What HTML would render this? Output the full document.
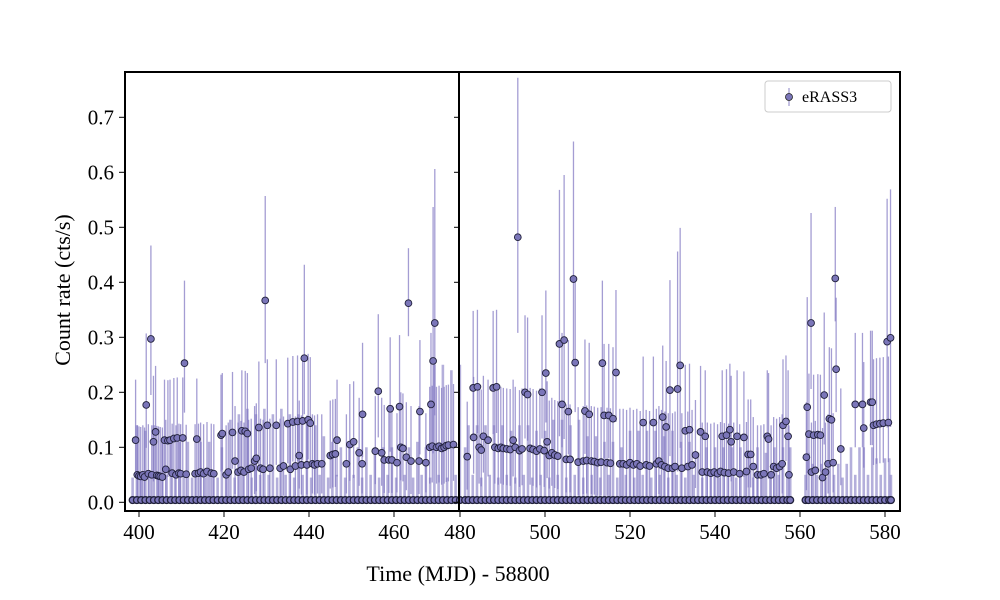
<!DOCTYPE html>
<html><head><meta charset="utf-8"><title>eRASS3 light curve</title>
<style>
html,body{margin:0;padding:0;background:#fff;}
svg{display:block;font-family:"Liberation Serif",serif;}
</style></head>
<body>
<svg id="chart" width="1000" height="600" viewBox="0 0 1000 600" xmlns="http://www.w3.org/2000/svg">
<rect x="0" y="0" width="1000" height="600" fill="#fff"/>
<g id="bars"></g>
<g id="marks"></g>
<g id="axes"></g>
<rect x="125" y="72" width="334" height="439" fill="none" stroke="#000" stroke-width="2"/>
<rect x="459" y="72" width="441" height="439" fill="none" stroke="#000" stroke-width="2"/>
<text x="70" y="290" font-size="22" text-anchor="middle" transform="rotate(-90 70 290)">Count rate (cts/s)</text>
<text x="458" y="581" font-size="22" text-anchor="middle">Time (MJD) - 58800</text>
<g>
<rect x="765" y="81" width="126" height="31" rx="3" fill="#fff" stroke="#ccc" stroke-width="1"/>
<line x1="789" y1="88" x2="789" y2="106" stroke="#8a82c4" stroke-width="1"/>
<circle cx="789" cy="97" r="3.5" fill="#7b76b9" stroke="#222" stroke-width="0.8"/>
<text x="802" y="102" font-size="16">eRASS3</text>
</g>
</svg>
<script>
const detT=[399.2,399.6,400.0,400.4,400.9,401.3,401.7,402.2,402.8,403.0,403.4,403.9,404.2,404.6,405.0,405.5,406.0,406.3,406.8,407.3,407.8,408.2,408.7,409.0,409.4,409.8,410.3,410.7,411.1,413.2,413.6,414.0,414.5,415.2,416.0,417.0,417.6,419.3,419.6,420.5,421.0,422.0,422.6,423.3,424.0,424.2,424.7,425.0,425.5,425.8,426.4,427.2,427.6,428.2,428.6,429.2,429.7,430.2,430.8,432.3,433.2,434.0,435.0,435.6,436.2,436.8,437.3,437.7,438.2,438.5,438.9,439.5,439.8,440.3,440.8,441.3,442.0,443.0,445.0,445.6,446.2,446.6,448.8,449.6,450.5,451.8,452.5,452.6,455.6,456.3,457.1,457.7,458.8,459.1,459.5,460.7,461.3,461.6,462.1,462.9,463.4,464.0,465.9,466.1,467.5,468.7,469.2,469.6,468.4,469.0,470.0,470.6,471.2,471.8,472.3,472.8,474.0,
481.7,483.1,483.2,484.1,484.5,485.0,485.5,486.6,487.8,488.6,488.2,489.0,489.6,490.2,491.0,491.8,492.5,493.0,493.6,494.0,494.6,495.3,495.9,496.5,497.2,498.0,498.8,499.3,499.8,500.2,500.5,501.0,501.6,502.3,503.0,503.4,504.0,504.5,505.0,505.5,505.9,506.7,507.1,507.8,509.0,509.4,509.8,510.4,510.9,511.6,512.4,513.2,513.5,513.9,514.6,515.0,515.4,516.0,516.7,517.6,518.4,519.2,520.0,520.8,521.6,522.4,523.1,523.8,524.6,525.5,526.2,526.8,527.4,527.7,528.2,528.5,529.0,529.4,530.0,530.6,531.2,531.8,532.2,533.0,533.6,534.0,534.6,535.4,536.6,537.0,537.7,538.2,539.0,539.8,540.6,541.3,541.7,542.2,542.7,543.2,543.5,543.8,544.4,545.2,545.8,546.8,547.4,547.8,548.4,549.0,550.0,550.8,551.5,552.3,552.6,553.2,553.8,554.5,555.2,555.8,556.0,556.7,557.2,557.4,561.5,561.7,562.1,562.6,562.7,563.2,563.6,564.2,564.8,565.3,565.7,566.0,566.6,566.9,567.4,567.8,568.3,568.5,569.6,573.0,574.7,575.0,576.6,577.0,577.3,578.0,578.8,579.6,580.5,580.8,581.3];
const detR=[.113,.050,.048,.047,.050,.046,.177,.052,.297,.050,.110,.128,.049,.048,.047,.046,.113,.060,.112,.113,.053,.116,.050,.117,.053,.052,.117,.253,.051,.052,.115,.053,.055,.052,.056,.053,.052,.122,.125,.050,.055,.127,.075,.055,.058,.130,.055,.129,.125,.060,.062,.075,.080,.136,.062,.060,.367,.140,.062,.140,.062,.066,.143,.060,.146,.066,.147,.085,.068,.148,.262,.068,.150,.144,.070,.068,.070,.070,.085,.087,.088,.113,.070,.105,.110,.090,.070,.160,.093,.202,.090,.077,.077,.170,.077,.072,.174,.100,.098,.082,.362,.075,.075,.165,.072,.178,.257,.326,.100,.102,.100,.102,.098,.100,.103,.104,.105,
.083,.208,.118,.210,.100,.095,.120,.113,.208,.210,.100,.098,.100,.098,.097,.096,.113,.100,.482,.094,.097,.200,.196,.098,.096,.093,.097,.200,.094,.235,.110,.085,.090,.086,.084,.288,.178,.295,.078,.165,.078,.406,.254,.073,.075,.166,.076,.160,.075,.074,.072,.073,.253,.158,.072,.158,.071,.152,.236,.070,.070,.068,.072,.068,.070,.066,.145,.068,.066,.145,.070,.075,.068,.155,.065,.137,.062,.204,.062,.065,.206,.249,.062,.130,.065,.132,.068,.086,.128,.055,.120,.055,.053,.055,.052,.056,.120,.054,.122,.053,.132,.110,.055,.120,.052,.118,.056,.087,.087,.065,.050,.050,.052,.120,.115,.050,.065,.062,.065,.070,.140,.147,.120,.050,.082,.173,.124,.326,.055,.122,.058,.123,.122,.045,.195,.055,.070,.152,.150,.072,.407,.242,.097,.178,.178,.135,.182,.182,.140,.142,.143,.144,.292,.145,.299];
const detE=[.11,.09,.09,.09,.09,.09,.13,.09,.17,.09,.12,.12,.09,.09,.09,.09,.11,.09,.11,.11,.09,.11,.09,.11,.09,.09,.11,.15,.09,.09,.11,.09,.09,.09,.09,.09,.09,.11,.11,.09,.09,.11,.10,.09,.09,.11,.09,.11,.11,.09,.09,.10,.10,.12,.09,.09,.19,.12,.09,.12,.09,.09,.12,.09,.12,.09,.12,.10,.09,.12,.17,.09,.12,.12,.09,.09,.09,.09,.10,.10,.10,.11,.09,.11,.11,.10,.09,.13,.10,.14,.10,.10,.10,.13,.10,.09,.13,.10,.10,.10,.10,.10,.10,.13,.09,.13,.28,.28,.11,.11,.11,.11,.11,.11,.11,.11,.11,
.10,.14,.11,.14,.11,.11,.11,.11,.14,.14,.11,.11,.11,.11,.11,.11,.11,.11,.29,.11,.11,.14,.14,.11,.11,.11,.11,.14,.11,.15,.11,.10,.10,.10,.10,.28,.13,.30,.10,.13,.10,.25,.15,.10,.10,.13,.10,.13,.10,.10,.10,.10,.15,.13,.10,.13,.10,.13,.15,.10,.10,.10,.10,.10,.10,.10,.12,.10,.10,.12,.10,.10,.10,.13,.10,.12,.10,.20,.10,.10,.25,.25,.10,.12,.10,.12,.10,.10,.12,.09,.12,.09,.09,.09,.09,.09,.12,.09,.12,.09,.12,.12,.09,.12,.09,.12,.09,.10,.10,.09,.09,.09,.09,.12,.12,.09,.09,.09,.09,.09,.12,.12,.12,.09,.10,.20,.11,.20,.09,.11,.09,.11,.11,.09,.15,.09,.09,.13,.13,.09,.13,.13,.11,.13,.13,.12,.13,.13,.12,.12,.12,.12,.26,.12,.27];
const zeroT=[398.5,399.5,400.5,401.5,402.5,403.5,404.5,405.5,406.5,407.5,408.5,409.5,410.5,411.5,412.5,413.5,414.5,415.5,416.5,417.5,418.5,419.5,420.5,421.5,422.5,423.5,424.5,425.5,426.5,427.5,428.5,429.5,430.5,431.5,432.5,433.5,434.5,435.5,436.5,437.5,438.5,439.5,440.5,441.5,442.5,443.5,444.5,445.5,446.5,447.5,448.5,449.5,450.5,451.5,452.5,453.5,454.5,455.5,456.5,457.5,458.5,459.5,460.5,461.5,462.5,463.5,464.5,465.5,466.5,467.5,468.5,469.5,470.5,471.5,472.5,473.5,474.5,475.5,
481.2,482,483,484,485,486,487,488,489,490,491,492,493,494,495,496,497,498,499,500,501,502,503,504,505,506,507,508,509,510,511,512,513,514,515,516,517,518,519,520,521,522,523,524,525,526,527,528,529,530,531,532,533,534,535,536,537,538,539,540,541,542,543,544,545,546,547,548,549,550,551,552,553,554,555,556,557,557.7,
561.3,562,563,564,565,566,567,568,569,570,571,572,573,574,575,576,577,578,579,580,581,581.4];
const zeroE=[.045,.14,.05,.13,.045,.14,.05,.11,.05,.11,.045,.11,.05,.11,.045,.05,.11,.045,.11,.05,.045,.10,.05,.15,.045,.16,.05,.17,.045,.16,.05,.17,.05,.16,.045,.17,.05,.16,.045,.16,.05,.15,.045,.14,.05,.12,.045,.11,.05,.10,.045,.10,.05,.10,.045,.10,.05,.10,.045,.10,.05,.10,.045,.10,.05,.10,.045,.11,.05,.10,.045,.25,.05,.25,.045,.24,.05,.25,
.10,.14,.05,.14,.045,.14,.05,.14,.045,.14,.05,.13,.045,.14,.05,.14,.045,.13,.05,.13,.045,.15,.05,.15,.045,.14,.05,.15,.045,.12,.05,.12,.045,.11,.05,.11,.045,.10,.05,.13,.045,.13,.05,.13,.045,.13,.05,.12,.045,.13,.05,.11,.045,.11,.05,.09,.045,.10,.05,.10,.045,.10,.05,.10,.045,.10,.05,.09,.045,.10,.05,.09,.045,.10,.05,.10,.045,.10,.05,.09,
.07,.05,.07,.045,.07,.05,.07,.045,.07,.10,.05,.10,.10,.05,.10,.08,.05,.08,.08,.05,.08,.08];
const yTicks=[0.0,0.1,0.2,0.3,0.4,0.5,0.6,0.7];
const leftXTicks=[400,420,440,460];
const rightXTicks=[480,500,520,540,560,580];

const NS="http://www.w3.org/2000/svg";
function xScale(v){ return v<478 ? 139+(v-400)*4.25 : 460+(v-480)*4.25; }
function yScale(v){ return 502.3-v*550; }
function mk(tag,attrs,parent){const e=document.createElementNS(NS,tag);for(const k in attrs)e.setAttribute(k,attrs[k]);parent.appendChild(e);return e;}
const bars=document.getElementById('bars'),marks=document.getElementById('marks'),axes=document.getElementById('axes');
function bar(t,r,e,lowF,w,col){
  const lo=Math.max(0,r-e*lowF);
  const l=mk('line',{x1:xScale(t),x2:xScale(t),y1:yScale(lo),y2:yScale(r+e),stroke:col,'stroke-width':w},bars);
  
  
}
function dot(t,r,sw){
  const c=mk('circle',{cx:xScale(t),cy:yScale(r),r:3.4,fill:'#7b76b9',stroke:'#20203a','stroke-width':sw},marks);
  
  
}
for(let i=0;i<zeroT.length;i++) bar(zeroT[i],0,zeroE[i],0,2.6,'rgba(140,132,200,0.65)');
for(let i=0;i<detT.length;i++) bar(detT[i],detR[i],detE[i],0.6,1.3,'rgba(125,116,192,0.7)');
for(let i=0;i<zeroT.length;i++) dot(zeroT[i],0.004,1.3);
for(let i=0;i<detT.length;i++) dot(detT[i],detR[i],0.9);

yTicks.forEach(v=>{
  const y=yScale(v);
  const a=mk('line',{x1:119,x2:125,y1:y,y2:y,stroke:'#000','stroke-width':1},axes);
  
  
  const b=mk('line',{x1:454,x2:459,y1:y,y2:y,stroke:'#000','stroke-width':1},axes);
  
  
  const t=mk('text',{x:114,y:y+7,'font-size':21,'text-anchor':'end'},axes);
  t.textContent=v.toFixed(1);
  
  
});
leftXTicks.concat(rightXTicks).forEach(v=>{
  const x=xScale(v);
  const a=mk('line',{x1:x,x2:x,y1:511,y2:517,stroke:'#000','stroke-width':1},axes);
  
  
  const t=mk('text',{x:x,y:539,'font-size':21,'text-anchor':'middle'},axes);
  t.textContent=String(v);
  
  
});
</script>
</body></html>
